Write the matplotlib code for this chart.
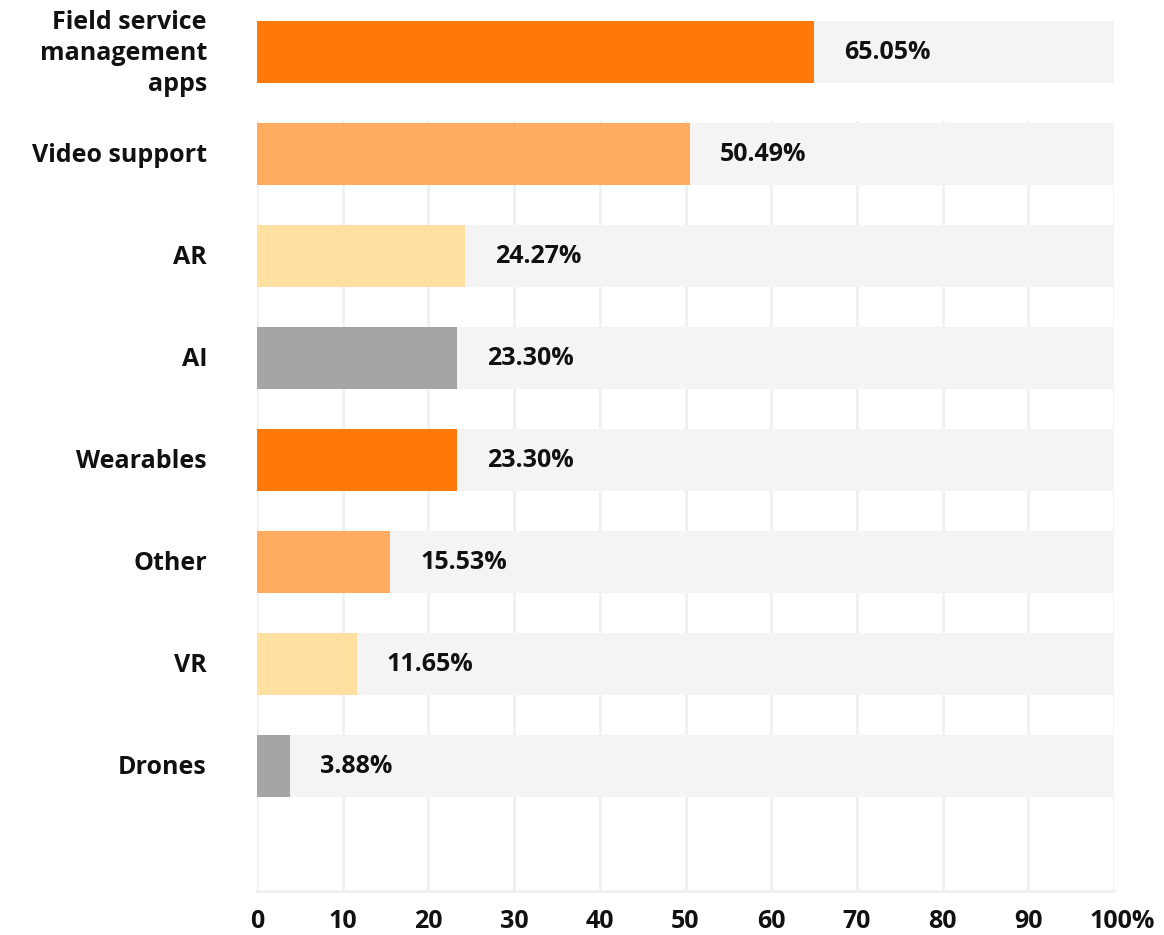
import matplotlib
matplotlib.use("Agg")
import matplotlib.pyplot as plt
import matplotlib.transforms as mtransforms

categories = ["Field service\nmanagement\napps", "Video support", "AR", "AI",
              "Wearables", "Other", "VR", "Drones"]
values = [65.05, 50.49, 24.27, 23.30, 23.30, 15.53, 11.65, 3.88]
bar_colors = ["#FF780A", "#FFAB60", "#FFE0A1", "#A5A5A5",
              "#FF780A", "#FFAB60", "#FFE0A1", "#A5A5A5"]
x_ticks = [0, 10, 20, 30, 40, 50, 60, 70, 80, 90, 100]
x_tick_labels = ["0", "10", "20", "30", "40", "50", "60", "70", "80", "90", "100%"]
full_scale = 100

plt.rcParams["font.family"] = ["Open Sans", "DejaVu Sans"]

fig = plt.figure(figsize=(11.64, 9.35), dpi=100)
ax = fig.add_axes([257 / 1164, 1 - 891 / 935, 857 / 1164, (891 - 121) / 935])

positions = list(range(len(categories)))
ax.set_xlim(0, 100)
ax.set_ylim(8.225, 0.676)

# vertical grid
for t in x_ticks:
    ax.axvline(t, color="#F0F0F0", lw=2, zorder=0)

bar_h = 0.608
ax.barh(positions, [full_scale] * len(values), height=bar_h, color="#F4F4F4",
        zorder=1, clip_on=False)
ax.barh(positions, values, height=bar_h, color=bar_colors, zorder=2, clip_on=False)

for y, v in zip(positions, values):
    ax.text(v + 3.5, y, f"{v:.2f}%", ha="left", va="center", fontsize=18,
            fontweight="bold", color="#111111", zorder=3, clip_on=False)

for y, c in zip(positions, categories):
    ax.annotate(c, xy=(0, y), xytext=(-36, -1), textcoords="offset points",
                ha="right", va="center", fontsize=18, fontweight="bold",
                color="#111111", linespacing=1.33, annotation_clip=False)

for s in ["top", "right", "left"]:
    ax.spines[s].set_visible(False)
ax.spines["bottom"].set_color("#F0F0F0")
ax.spines["bottom"].set_linewidth(2)

ax.set_xticks(x_ticks)
ax.set_xticklabels(x_tick_labels, fontsize=18, fontweight="bold", color="#111111")
ax.tick_params(axis="x", length=0, pad=13)
last = ax.get_xticklabels()[-1]
last.set_transform(last.get_transform() +
                   mtransforms.ScaledTranslation(6 / 72, 0, fig.dpi_scale_trans))
ax.set_yticks([])

fig.savefig("out.png", dpi=100)
